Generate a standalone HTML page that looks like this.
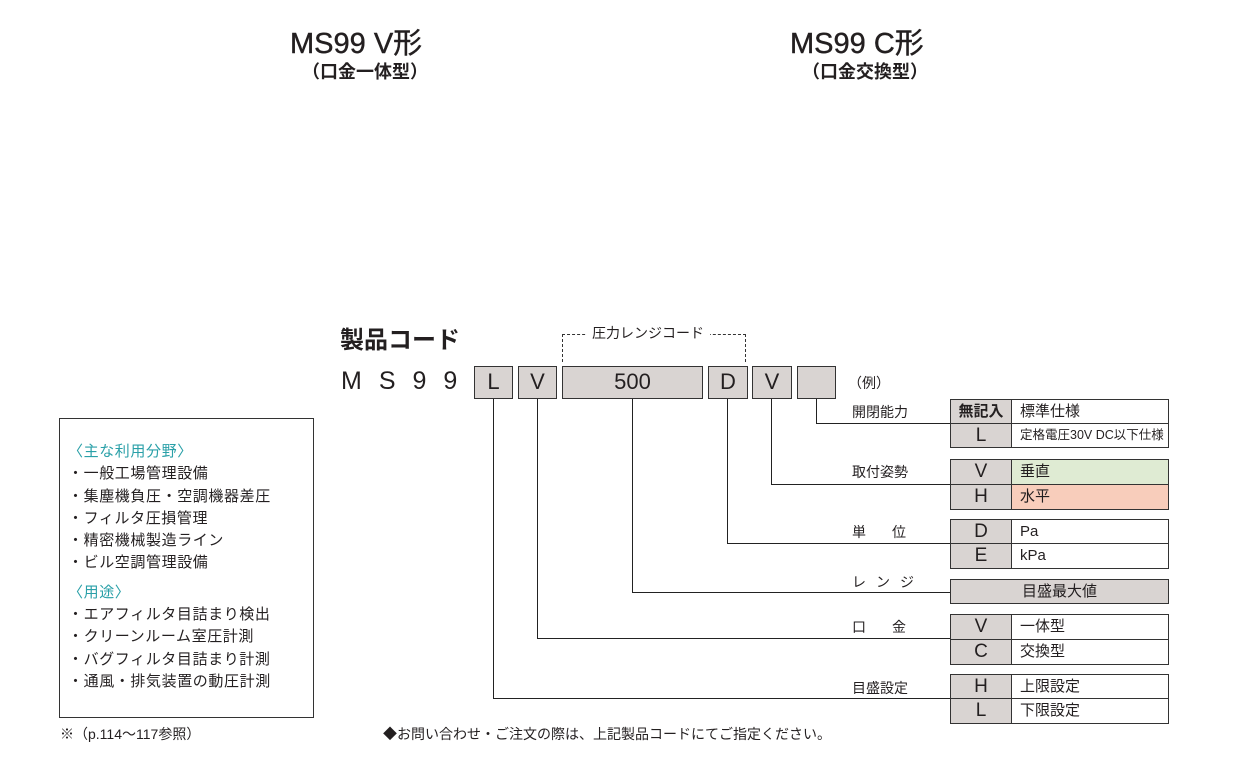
<!DOCTYPE html>
<html><head><meta charset="utf-8"><style>
body{margin:0;width:1243px;height:765px;background:#fff;position:relative;font-family:"Liberation Sans","Noto Sans CJK JP",sans-serif;color:#231f20;overflow:hidden}
.a{position:absolute;white-space:nowrap}
.b{position:absolute;background:#d9d4d2;border:1.5px solid #333;box-sizing:border-box;font-size:22px;text-align:center;line-height:30px}
.l{position:absolute;background:#222}
.t{position:absolute;border:1px solid #333;box-sizing:border-box;font-size:15px;line-height:23px}
.k{background:#d9d4d2;text-align:center;font-size:19px}
.lbl{position:absolute;font-size:14px;left:852px}
</style></head><body>
<div class="a" style="left:290px;top:20px;font-size:29px;-webkit-text-stroke:0.4px #231f20">MS99 V形</div>
<div class="a" style="left:302px;top:58px;font-size:18px;font-weight:bold">（口金一体型）</div>
<div class="a" style="left:790px;top:20px;font-size:29px;-webkit-text-stroke:0.4px #231f20">MS99 C形</div>
<div class="a" style="left:802px;top:58px;font-size:18px;font-weight:bold">（口金交換型）</div>

<div class="a" style="left:340px;top:320px;font-size:24px;font-weight:bold">製品コード</div>
<div class="a" style="left:341px;top:367px;font-size:25px;letter-spacing:17px">MS99</div>
<div class="a" style="left:562px;top:334px;width:184px;height:28px;border-top:1.5px dashed #333;border-left:1.5px dashed #333;border-right:1.5px dashed #333;box-sizing:border-box"></div>
<div class="a" style="left:586px;top:323px;background:#fff;padding:0 6px;font-size:14px">圧力レンジコード</div>
<div class="b" style="left:474px;top:366px;width:39px;height:33px">L</div>
<div class="b" style="left:518px;top:366px;width:39px;height:33px">V</div>
<div class="b" style="left:562px;top:366px;width:141px;height:33px">500</div>
<div class="b" style="left:708px;top:366px;width:40px;height:33px">D</div>
<div class="b" style="left:752px;top:366px;width:40px;height:33px">V</div>
<div class="b" style="left:797px;top:366px;width:39px;height:33px"></div>
<div class="a" style="left:848px;top:373px;font-size:14px">（例）</div>

<div class="l" style="left:816px;top:399px;width:1px;height:25px"></div><div class="l" style="left:816px;top:423px;width:134px;height:1px"></div>
<div class="l" style="left:771px;top:399px;width:1px;height:86px"></div><div class="l" style="left:771px;top:484px;width:179px;height:1px"></div>
<div class="l" style="left:727px;top:399px;width:1px;height:144px"></div><div class="l" style="left:727px;top:543px;width:223px;height:1px"></div>
<div class="l" style="left:632px;top:399px;width:1px;height:193px"></div><div class="l" style="left:632px;top:592px;width:318px;height:1px"></div>
<div class="l" style="left:537px;top:399px;width:1px;height:239px"></div><div class="l" style="left:537px;top:638px;width:413px;height:1px"></div>
<div class="l" style="left:493px;top:399px;width:1px;height:299px"></div><div class="l" style="left:493px;top:698px;width:457px;height:1px"></div>

<div class="lbl" style="top:402px">開閉能力</div>
<div class="lbl" style="top:462px">取付姿勢</div>
<div class="lbl" style="top:522px;letter-spacing:26px">単位</div>
<div class="lbl" style="top:572px;letter-spacing:10px">レンジ</div>
<div class="lbl" style="top:617px;letter-spacing:26px">口金</div>
<div class="lbl" style="top:678px">目盛設定</div>

<div class="t k" style="left:950px;top:399px;width:62px;height:25px;font-size:15px;font-weight:bold">無記入</div><div class="t" style="left:1011px;top:399px;width:158px;height:25px;padding-left:8px">標準仕様</div>
<div class="t k" style="left:950px;top:423px;width:62px;height:25px">L</div><div class="t" style="left:1011px;top:423px;width:158px;height:25px;padding-left:8px;font-size:12.5px">定格電圧30V DC以下仕様</div>
<div class="t k" style="left:950px;top:459px;width:62px;height:26px">V</div><div class="t" style="left:1011px;top:459px;width:158px;height:26px;padding-left:8px;background:#dfebd3">垂直</div>
<div class="t k" style="left:950px;top:484px;width:62px;height:26px">H</div><div class="t" style="left:1011px;top:484px;width:158px;height:26px;padding-left:8px;background:#f8cdbb">水平</div>
<div class="t k" style="left:950px;top:519px;width:62px;height:25px">D</div><div class="t" style="left:1011px;top:519px;width:158px;height:25px;padding-left:8px">Pa</div>
<div class="t k" style="left:950px;top:543px;width:62px;height:26px">E</div><div class="t" style="left:1011px;top:543px;width:158px;height:26px;padding-left:8px">kPa</div>
<div class="t k" style="left:950px;top:579px;width:219px;height:25px;font-size:15px">目盛最大値</div>
<div class="t k" style="left:950px;top:614px;width:62px;height:26px">V</div><div class="t" style="left:1011px;top:614px;width:158px;height:26px;padding-left:8px">一体型</div>
<div class="t k" style="left:950px;top:639px;width:62px;height:26px">C</div><div class="t" style="left:1011px;top:639px;width:158px;height:26px;padding-left:8px">交換型</div>
<div class="t k" style="left:950px;top:674px;width:62px;height:25px">H</div><div class="t" style="left:1011px;top:674px;width:158px;height:25px;padding-left:8px">上限設定</div>
<div class="t k" style="left:950px;top:698px;width:62px;height:26px">L</div><div class="t" style="left:1011px;top:698px;width:158px;height:26px;padding-left:8px">下限設定</div>

<div class="a" style="left:59px;top:418px;width:255px;height:300px;border:1px solid #333;box-sizing:border-box;font-size:15px;line-height:22.3px;padding:22px 0 0 8px;letter-spacing:0.6px">
<div style="color:#2aa0a8">〈主な利用分野〉</div>
<div>・一般工場管理設備</div><div>・集塵機負圧・空調機器差圧</div><div>・フィルタ圧損管理</div><div>・精密機械製造ライン</div><div>・ビル空調管理設備</div>
<div style="color:#2aa0a8;margin-top:7px">〈用途〉</div>
<div>・エアフィルタ目詰まり検出</div><div>・クリーンルーム室圧計測</div><div>・バグフィルタ目詰まり計測</div><div>・通風・排気装置の動圧計測</div>
</div>
<div class="a" style="left:60px;top:724px;font-size:14px">※（p.114〜117参照）</div>
<div class="a" style="left:383px;top:724px;font-size:14px">◆お問い合わせ・ご注文の際は、上記製品コードにてご指定ください。</div>
</body></html>
